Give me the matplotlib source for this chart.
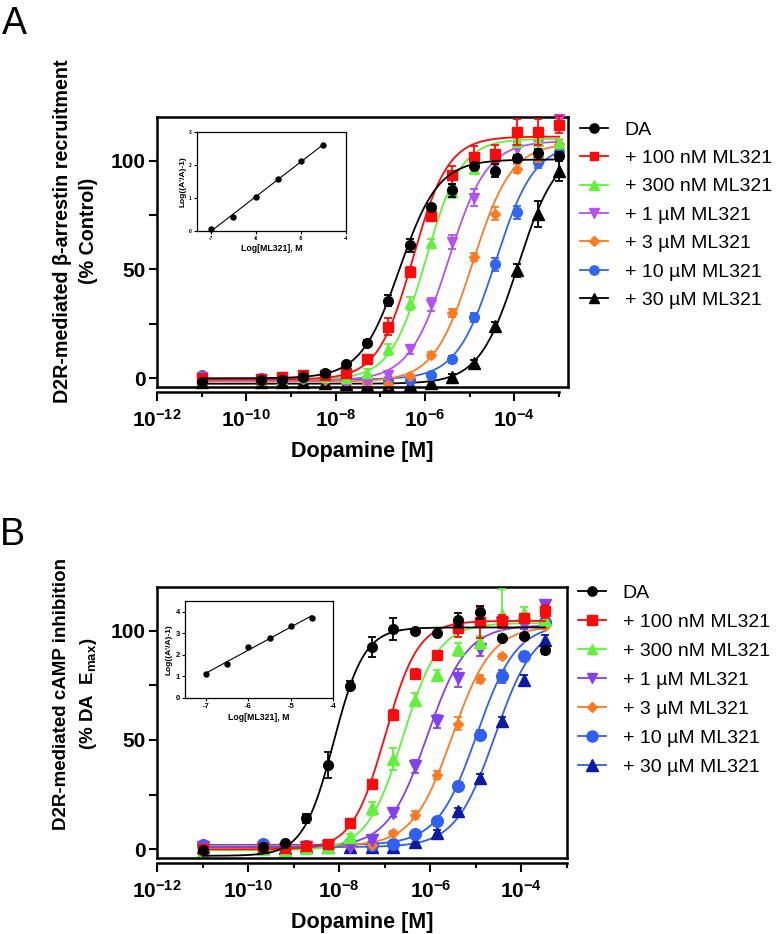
import numpy as np
import matplotlib
matplotlib.use('Agg')
import matplotlib.pyplot as plt
from matplotlib.ticker import FixedLocator, NullFormatter, FuncFormatter
from matplotlib.lines import Line2D

plt.rcParams['font.family'] = ['Liberation Sans', 'DejaVu Sans']
plt.rcParams['font.weight'] = 'bold'
plt.rcParams['mathtext.fontset'] = 'custom'
plt.rcParams['mathtext.rm'] = 'Liberation Sans'
plt.rcParams['mathtext.bf'] = 'Liberation Sans:bold'
plt.rcParams['mathtext.it'] = 'Liberation Sans:italic'

# ---------------- data ----------------
series_labels = ['DA', '+ 100 nM ML321', '+ 300 nM ML321', '+ 1 µM ML321',
                 '+ 3 µM ML321', '+ 10 µM ML321', '+ 30 µM ML321']

# log10 [dopamine] (M)
logx_A = [-11.0, -9.68, -9.20, -8.73, -8.25, -7.77, -7.29, -6.82, -6.34, -5.86,
          -5.39, -4.91, -4.43, -3.95, -3.48, -3.00]
logx_B = [-11.0, -9.68, -9.20, -8.73, -8.25, -7.77, -7.29, -6.82, -6.34, -5.86,
          -5.39, -4.91, -4.43, -3.95, -3.48]

# Panel A: beta-arrestin recruitment (% control)
A_DA   = [-1.5, -1.0, -0.8, 0.8, 2.3, 6.4, 16.0, 35.6, 61.0, 78.6, 86.3, 97.4, 95.4, 101.0, 103.5, 102.0]
A_100n = [0.0, -0.5, 0.8, 1.5, 1.5, 2.3, 8.7, 23.7, 49.0, 74.4, 93.4, 101.5, 103.0, 113.3, 113.3, 116.5]
A_300n = [-1.0, -1.0, -0.5, 0.5, 0.8, 0.0, 2.3, 13.3, 34.4, 62.0, 85.6, 96.3, 103.0, 108.5, 109.0, 108.0]
A_1u   = [0.8, -0.5, -0.3, -0.5, -0.3, -2.0, -1.5, 1.5, 13.3, 34.0, 62.6, 83.0, 98.5, 105.5, 107.8, 119.0]
A_3u   = [0.0, -0.5, -0.5, -0.5, -1.0, -1.5, -2.0, -2.6, 1.0, 10.7, 30.0, 55.7, 75.6, 96.2, 101.5, 107.6]
A_10u  = [1.5, 0.0, 0.0, 0.0, 0.0, -0.3, -0.5, -0.8, -0.8, 1.5, 8.7, 28.0, 52.4, 76.3, 99.5, 104.0]
A_30u  = [-1.5, -1.5, -1.5, -1.5, -2.0, -2.5, -3.0, -3.5, -3.0, -2.3, 0.8, 6.9, 24.0, 49.6, 75.6, 95.4]

eA_DA   = [0, 0, 0, 0, 0, 0, 1.5, 2.5, 3, 1.5, 3, 1, 3, 1.5, 2, 2]
eA_100n = [0, 0, 0, 0, 0, 0, 1, 4, 2, 2, 4, 5, 4, 6, 6, 4]
eA_300n = [0, 0, 0, 0, 0, 0, 2, 2.5, 3, 2, 3, 2, 2, 2, 2, 2]
eA_1u   = [0, 0, 0, 0, 0, 0, 0, 1.5, 2, 3, 3, 4, 3, 3, 3, 2]
eA_3u   = [0, 0, 0, 0, 0, 0, 0, 0, 1, 1.5, 2, 2, 3, 2, 2, 2]
eA_10u  = [0, 0, 0, 0, 0, 0, 0, 0, 0, 1, 1.5, 2, 3, 3, 3, 2]
eA_30u  = [0, 0, 0, 0, 0, 0, 0, 0, 0, 0, 1, 1.5, 2, 3, 6, 5]

# Panel B: cAMP inhibition (% DA Emax)
B_DA   = [-0.3, 1.0, 3.0, 14.2, 38.6, 74.8, 92.4, 100.8, 100.0, 99.0, 105.0, 108.5, 96.6, 97.4, 91.0]
B_100n = [0.0, 0.5, 0.5, 1.5, 2.4, 11.9, 29.8, 61.5, 80.3, 88.7, 101.2, 103.8, 104.3, 105.8, 108.9]
B_300n = [-0.6, 0.0, -0.6, 0.5, 1.0, 5.8, 18.8, 41.4, 68.4, 79.8, 91.6, 94.7, 107.0, 108.0, 105.0]
B_1u   = [1.0, 0.5, 0.0, 1.0, 1.5, 1.0, 4.3, 16.8, 37.9, 58.5, 78.3, 91.6, 103.5, 102.7, 111.9]
B_3u   = [1.5, 1.0, 1.0, 1.0, 1.0, 1.5, 2.0, 7.3, 15.7, 34.0, 57.4, 77.9, 88.2, 97.0, 102.0]
B_10u  = [2.0, 2.3, 1.5, 1.5, 1.5, 2.7, 2.0, 2.4, 7.0, 13.1, 29.0, 52.4, 79.1, 88.2, 103.8]
B_30u  = [1.0, 0.5, 0.5, 1.5, 1.0, 1.0, 1.0, 1.0, 3.5, 7.6, 17.7, 32.5, 58.5, 77.6, 95.9]

eB_DA   = [0, 0, 1, 2, 6, 2, 4.5, 5, 1, 1, 3, 3, 1.5, 1, 1.5]
eB_100n = [0, 0, 0, 0, 0, 1, 1.5, 2, 2, 2, 4, 7, 3, 2, 3]
eB_300n = [0, 0, 0, 0, 0, 1, 3, 5, 3, 2, 3, 3, 12, 3, 2]
eB_1u   = [0, 0, 0, 0, 0, 0, 1, 2, 3, 3, 4, 3, 2, 2, 2]
eB_3u   = [0, 0, 0, 0, 0, 0, 0, 1, 2, 2, 3, 2, 1, 1, 1]
eB_10u  = [0, 0, 0, 0, 0, 0, 0, 0, 1, 1, 2, 2, 3, 2, 2]
eB_30u  = [0, 0, 0, 0, 0, 0, 0, 0, 0, 1, 1, 2, 2, 2, 2]

# fitted four-parameter logistic curves (bottom, top, logEC50, Hill)
fit_bottom_A = [0.0, -0.5, -0.5, -1.0, -1.5, -0.5, -2.5]
fit_top_A    = [100.5, 111.0, 110.0, 109.0, 108.0, 108.0, 106.0]
fit_ec50_A   = [-6.57, -6.27, -5.98, -5.48, -4.93, -4.42, -3.92]
fit_hill_A   = [1.0, 1.1, 1.1, 1.0, 1.0, 1.0, 1.0]

fit_bottom_B = [-3.0, 0.0, -0.5, 1.0, 1.5, 2.0, 1.0]
fit_top_B    = [101.5, 104.5, 103.5, 102.5, 102.0, 103.0, 103.0]
fit_ec50_B   = [-8.12, -6.99, -6.60, -6.07, -5.52, -4.98, -4.58]
fit_hill_B   = [1.3, 1.2, 1.1, 1.0, 1.0, 1.0, 1.0]

# Schild insets
schild_x   = [-7.0, -6.5, -6.0, -5.5, -5.0, -4.5]
schild_A_y = [0.05, 0.43, 1.02, 1.58, 2.12, 2.62]
schild_B_y = [1.13, 1.58, 2.38, 2.80, 3.32, 3.73]

data_A = [A_DA, A_100n, A_300n, A_1u, A_3u, A_10u, A_30u]
err_A = [eA_DA, eA_100n, eA_300n, eA_1u, eA_3u, eA_10u, eA_30u]
data_B = [B_DA, B_100n, B_300n, B_1u, B_3u, B_10u, B_30u]
err_B = [eB_DA, eB_100n, eB_300n, eB_1u, eB_3u, eB_10u, eB_30u]

# ---------------- styles ----------------
markers = ['o', 's', '^', 'v', 'D', 'o', '^']
msize_A = [7.0, 6.8, 7.8, 7.8, 5.6, 7.0, 8.2]
msize_B = [7.0, 7.2, 8.0, 8.0, 5.6, 8.4, 8.4]
mcol_A = ['black', '#ff0a0a', '#62f23a', '#b451f2', '#ff7a22', '#2f66f3', 'black']
lcol_A = mcol_A
mcol_B = ['black', '#ff0a0a', '#62f23a', '#8340ef', '#ff7a22', '#2f5ff3', '#0c1aa6']
lcol_B = ['black', '#ff0a0a', '#62f23a', '#8340ef', '#ff7a22', '#2f5ff3', '#2f5ff3']

W, H = 776, 934
fig = plt.figure(figsize=(W / 100, H / 100), dpi=100)


def px_axes(l, t, r, b):
    return fig.add_axes([l / W, 1 - b / H, (r - l) / W, (b - t) / H])


def xfmt(v, pos):
    e = int(round(np.log10(v)))
    return r'$\mathbf{10^{%d}}$' % e


def draw_panel(ax, logx, data, errs, bots, tops, ec50s, hills, mcols, lcols, msizes, xright):
    x = 10 ** np.array(logx)
    n = len(data)
    xs = np.linspace(logx[0], logx[-1], 400)
    for i in range(n - 1, -1, -1):
        z = 10 + (n - i) * 3
        yfit = bots[i] + (tops[i] - bots[i]) / (1 + 10 ** ((ec50s[i] - xs) * hills[i]))
        ax.plot(10 ** xs, yfit, color=lcols[i], lw=1.3, zorder=z, clip_on=False)
        e = np.array(errs[i], dtype=float)
        y = np.array(data[i], dtype=float)
        m = e > 0
        ax.errorbar(x[m], y[m], yerr=e[m], fmt='none', ecolor=mcols[i], elinewidth=1.3,
                    capsize=3.2, capthick=1.3, zorder=z + 1, clip_on=False)
        ax.plot(x, y, linestyle='none', marker=markers[i], ms=msizes[i], color=mcols[i],
                mec=mcols[i], zorder=z + 2, clip_on=False)
    ax.set_xscale('log')
    ax.set_xlim(1e-12, xright)
    ax.set_ylim(-4, 120)
    for s in ['left', 'top', 'right']:
        ax.spines[s].set_linewidth(1.8)
    ax.spines['bottom'].set_linewidth(1.8)
    ax.spines['bottom'].set_position(('outward', 3.6))
    ax.spines['bottom'].set_bounds(1e-12, 1e-3)
    ax.plot([0, 1], [0, 0], transform=ax.transAxes, color='black', lw=1.8,
            clip_on=False, zorder=50, solid_capstyle='projecting')
    ax.xaxis.set_major_locator(FixedLocator([1e-12, 1e-10, 1e-8, 1e-6, 1e-4]))
    ax.xaxis.set_minor_locator(FixedLocator([1e-11, 1e-9, 1e-7, 1e-5, 1e-3]))
    ax.xaxis.set_major_formatter(FuncFormatter(xfmt))
    ax.xaxis.set_minor_formatter(NullFormatter())
    ax.yaxis.set_major_locator(FixedLocator([0, 50, 100]))
    ax.yaxis.set_minor_locator(FixedLocator([25, 75]))
    ax.tick_params(axis='x', which='major', length=6.5, width=1.5, labelsize=15, pad=6)
    ax.tick_params(axis='x', which='minor', length=3.5, width=1.5)
    ax.tick_params(axis='y', which='major', length=6, width=1.5, labelsize=15, pad=2)
    ax.tick_params(axis='y', which='minor', length=5.5, width=1.5)
    for lab in ax.get_yticklabels():
        lab.set_fontweight('bold')
    ax.set_xlabel('Dopamine [M]', fontsize=15.5, fontweight='bold', labelpad=7)


def draw_inset(ax, ys, xlim, ylim, yticks, tick_fs):
    xa = np.array(schild_x)
    ya = np.array(ys)
    ax.plot(xa, ya, 'o', color='black', ms=3.6, zorder=3, clip_on=False)
    k, b0 = np.polyfit(xa, ya, 1)
    ax.plot([xa[0], xa[-1]], [k * xa[0] + b0, k * xa[-1] + b0], color='black', lw=0.8)
    ax.set_xlim(*xlim)
    ax.set_ylim(*ylim)
    ax.set_xticks([-7, -6, -5, -4])
    ax.set_yticks(yticks)
    ax.set_xticklabels(['-7', '-6', '-5', '-4'])
    for s in ax.spines.values():
        s.set_linewidth(0.9)
    ax.tick_params(length=2.2, width=0.8, labelsize=tick_fs, pad=1.5)
    ax.set_xlabel('Log[ML321], M', fontsize=6.3, fontweight='bold', labelpad=2)
    ax.set_ylabel("Log((A'/A)-1)", fontsize=6.0, fontweight='bold', labelpad=2)


# ---------------- Panel A ----------------
axA = px_axes(157, 117, 568, 387)
draw_panel(axA, logx_A, data_A, err_A, fit_bottom_A, fit_top_A, fit_ec50_A, fit_hill_A,
           mcol_A, lcol_A, msize_A, 10 ** -2.8)
insA = px_axes(197, 132, 346, 231)
draw_inset(insA, schild_A_y, (-7.3, -4), (0, 3), [0, 1, 2, 3], 3.5)

# ---------------- Panel B ----------------
axB = px_axes(157, 587, 567, 858)
draw_panel(axB, logx_B, data_B, err_B, fit_bottom_B, fit_top_B, fit_ec50_B, fit_hill_B,
           mcol_B, lcol_B, msize_B, 1e-3)
insB = px_axes(185, 601, 333, 698)
draw_inset(insB, schild_B_y, (-7.5, -4), (0, 4.5), [0, 1, 2, 3, 4], 5.5)

# y labels
fig.text(75.5 / W, 1 - 231 / H, 'D2R-mediated β-arrestin recruitment\n(% Control)',
         rotation=90, ha='center', va='center', multialignment='center',
         fontsize=14.2, fontweight='bold', linespacing=1.5)
fig.text(76 / W, 1 - 694 / H, 'D2R-mediated cAMP inhibition\n' + r'(% DA  E$_{\mathbf{max}}$)',
         rotation=90, ha='center', va='center', multialignment='center',
         fontsize=13.5, fontweight='bold', linespacing=1.55)

# panel letters
fig.text(2 / W, 1 - 6 / H, 'A', fontsize=27, fontweight='normal', ha='left', va='top')
fig.text(0 / W, 1 - 517 / H, 'B', fontsize=27, fontweight='normal', ha='left', va='top')


# legends
def make_legend(mcols, lcols, msizes, top_px, left_px, spacing):
    handles = [Line2D([0], [0], color=lcols[i], lw=1.3, marker=markers[i], ms=msizes[i] * 0.95,
                      mfc=mcols[i], mec=mcols[i]) for i in range(len(series_labels))]
    fig.legend(handles, series_labels, loc='upper left',
               bbox_to_anchor=(left_px / W, 1 - top_px / H), bbox_transform=fig.transFigure,
               frameon=False, borderpad=0, borderaxespad=0, handlelength=1.45,
               handletextpad=0.85, labelspacing=spacing, prop={'size': 14, 'weight': 'normal'})


make_legend(mcol_A, lcol_A, msize_A, 121, 580, 0.555)
make_legend(mcol_B, lcol_B, msize_B, 584, 578, 0.59)

fig.savefig('out.png', dpi=100)
